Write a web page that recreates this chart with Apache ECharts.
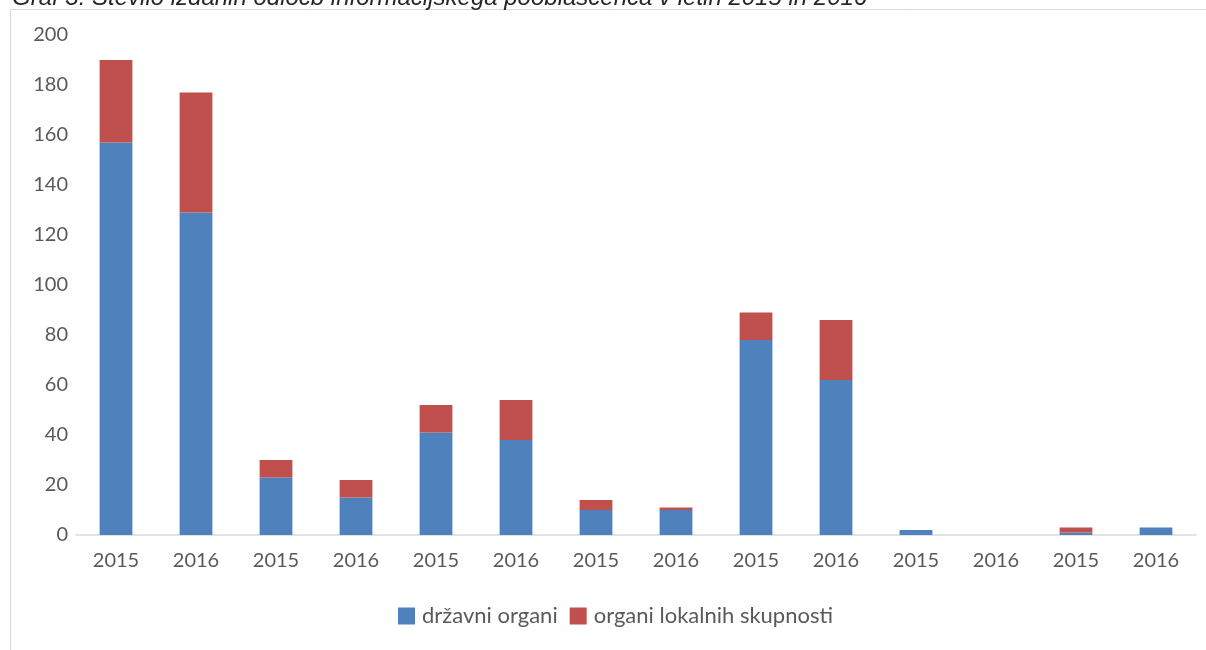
<!DOCTYPE html>
<html>
<head>
<meta charset="utf-8">
<script src="https://cdn.jsdelivr.net/npm/echarts@6/dist/echarts.min.js"></script>
<style>
  html, body { margin: 0; padding: 0; background: #fff; }
  #chart { width: 1206px; height: 650px; }
</style>
</head>
<body>
<div id="chart"></div>
<script>
// kategorije (leta) in vrednosti
const categories = ['2015', '2016', '2015', '2016', '2015', '2016', '2015', '2016', '2015', '2016', '2015', '2016', '2015', '2016']
const drzavniOrgani = [157, 129, 23, 15, 41, 38, 10, 10, 78, 62, 2, 0, 1, 3]
const lokalniOrgani = [33, 48, 7, 7, 11, 16, 4, 1, 11, 24, 0, 0, 2, 0]
const seriesNames = ['državni organi', 'organi lokalnih skupnosti']
const titleText = 'Graf 3: Število izdanih odločb informacijskega pooblaščenca v letih 2015 in 2016'

const font = 'Lato, "Noto Sans", sans-serif'
const labelColor = '#595959'

const chart = echarts.init(document.getElementById('chart'))

chart.setOption({
  animation: false,
  // naslov je v izvirniku odrezan na vrhu
  title: {
    text: titleText,
    left: 12,
    top: -14,
    padding: 0,
    textStyle: {
      fontFamily: '"Liberation Sans", Arial, sans-serif',
      fontStyle: 'italic',
      fontWeight: 'normal',
      fontSize: 24,
      color: '#262626'
    }
  },
  graphic: [
    {
      type: 'rect',
      shape: { x: 10.5, y: 9.5, width: 1400, height: 800 },
      style: { fill: 'none', stroke: '#d9d9d9', lineWidth: 1 },
      silent: true
    }
  ],
  grid: {
    left: 76,
    right: 10,
    top: 35,
    bottom: 115
  },
  legend: {
    data: seriesNames,
    top: 600,
    left: 393,
    icon: 'rect',
    itemWidth: 17,
    itemHeight: 17,
    itemGap: 12,
    textStyle: {
      fontFamily: font,
      fontSize: 22,
      color: labelColor,
      padding: [0, 0, 0, 2]
    }
  },
  xAxis: {
    type: 'category',
    data: categories,
    axisTick: { show: false },
    axisLine: { lineStyle: { color: '#d9d9d9', width: 1.5 } },
    axisLabel: {
      margin: 16,
      fontFamily: font,
      fontSize: 20,
      color: labelColor
    }
  },
  yAxis: {
    type: 'value',
    min: 0,
    max: 200,
    interval: 20,
    splitLine: { show: false },
    axisLine: { show: false },
    axisTick: { show: false },
    axisLabel: {
      margin: 8,
      fontFamily: font,
      fontSize: 20,
      color: labelColor
    }
  },
  series: [
    {
      name: seriesNames[0],
      type: 'bar',
      stack: 'skupaj',
      barWidth: '41%',
      itemStyle: { color: '#4f81bd' },
      data: drzavniOrgani
    },
    {
      name: seriesNames[1],
      type: 'bar',
      stack: 'skupaj',
      barWidth: '41%',
      itemStyle: { color: '#c0504d' },
      data: lokalniOrgani
    }
  ]
})
</script>
</body>
</html>
